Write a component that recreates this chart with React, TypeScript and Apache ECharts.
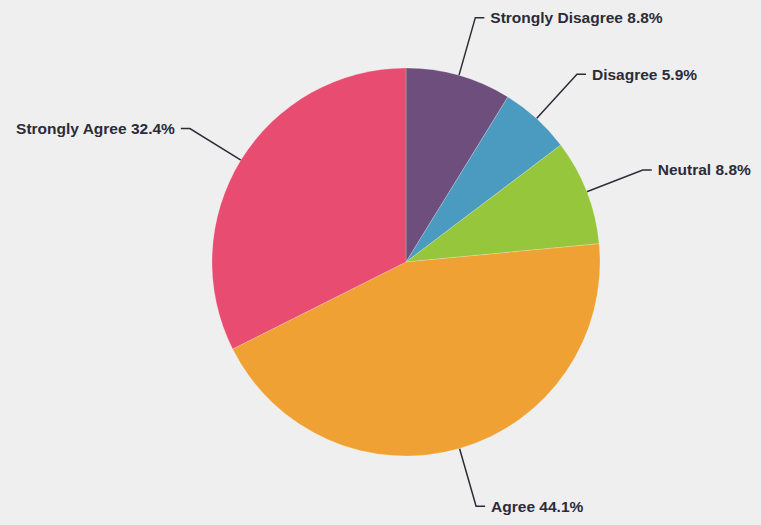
import React, { useEffect, useRef } from "react";
import * as echarts from "echarts";

const categories = ["Strongly Disagree", "Disagree", "Neutral", "Agree", "Strongly Agree"];
const percentages = [8.8, 5.9, 8.8, 44.1, 32.4];
const colors = ["#6d4e7c", "#4a9bbf", "#96c63b", "#efa133", "#e84d71"];

export default function App() {
  const ref = useRef<HTMLDivElement>(null);
  useEffect(() => {
    if (!ref.current) return;
    const chart = echarts.init(ref.current, undefined, { renderer: "svg" });
    chart.setOption({
      animation: false,
      backgroundColor: "#efefef",
      series: [
        {
          type: "pie",
          center: [406, 262],
          radius: 194,
          startAngle: 90,
          clockwise: true,
          avoidLabelOverlap: false,
          percentPrecision: 1,
          data: categories.map((name, i) => ({
            name,
            value: percentages[i],
            itemStyle: { color: colors[i] },
          })),
          itemStyle: { borderColor: "rgba(255,255,255,0.35)", borderWidth: 0.6 },
          label: {
            show: true,
            formatter: "{b} {d}%",
            color: "#2c2c38",
            fontFamily: '"Liberation Sans", Arial, sans-serif',
            fontSize: 15.5,
            fontWeight: "bold",
            distanceToLabelLine: 6,
          },
          labelLine: {
            show: true,
            length: 60,
            length2: 9,
            smooth: false,
            lineStyle: { color: "#2c2c38", width: 1.5 },
          },
          emphasis: { disabled: true },
        },
      ],
    });
    return () => chart.dispose();
  }, []);
  return (
    <div
      ref={ref}
      style={{ position: "fixed", left: 0, top: 0, width: 761, height: 525 }}
    />
  );
}
